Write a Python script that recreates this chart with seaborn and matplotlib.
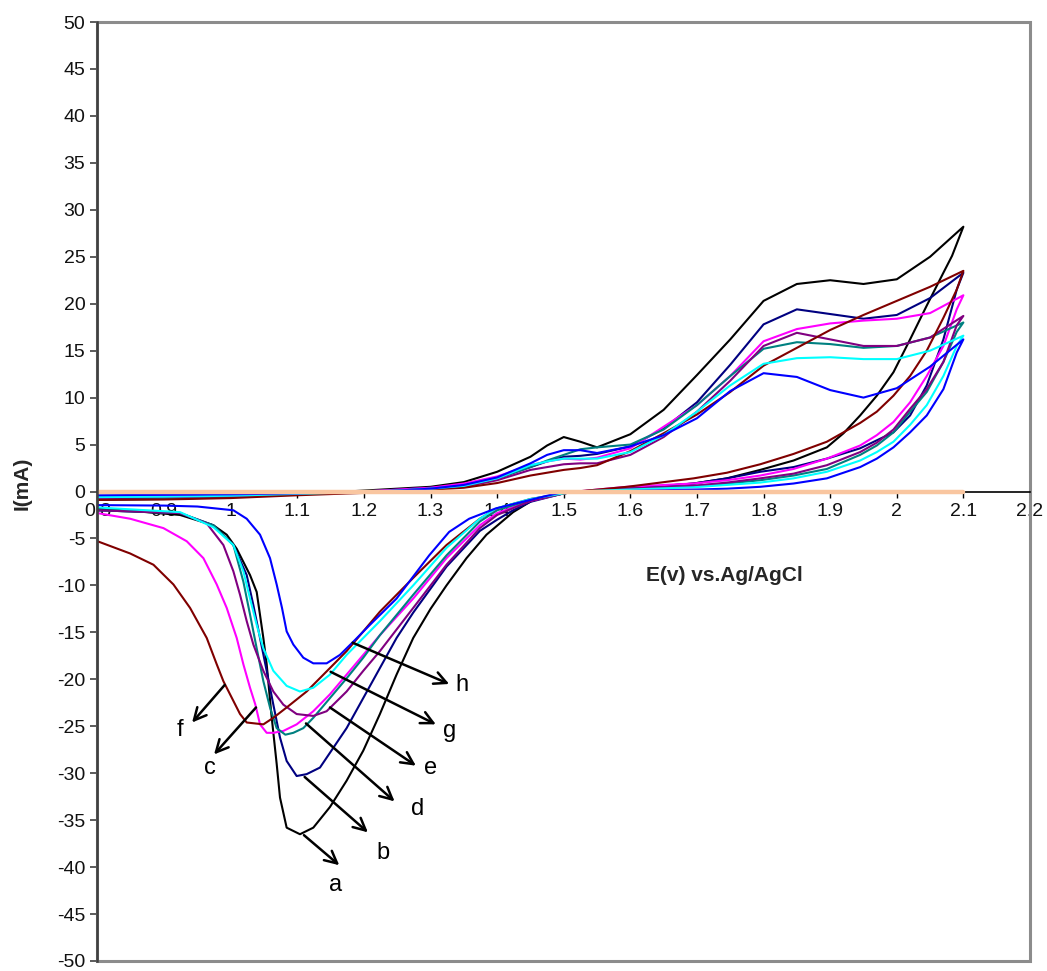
import matplotlib
matplotlib.use("Agg")
import matplotlib.pyplot as plt
import matplotlib.patches as mpatches
import numpy as np
import pandas as pd
import seaborn as sns

# ---------------- data ----------------
curves = ["a", "b", "c", "d", "e", "f", "g", "h"]
colors = {"a": "#000000", "b": "#000080", "c": "#FF00FF", "d": "#008080",
          "e": "#800080", "f": "#800000", "g": "#00FFFF", "h": "#0000FF"}

# forward (anodic) sweep, common potential grid
fwd_E = [0.80, 0.90, 1.00, 1.10, 1.20, 1.25, 1.30, 1.35, 1.40, 1.45, 1.475, 1.50, 1.525,
         1.55, 1.60, 1.65, 1.70, 1.75, 1.80, 1.85, 1.90, 1.95, 2.00, 2.05, 2.10]
fwd_a = [-0.8, -0.7, -0.5, -0.3, 0.1, 0.3, 0.5, 1.0, 2.1, 3.7, 4.9, 5.8, 5.3,
         4.7, 6.1, 8.7, 12.4, 16.2, 20.3, 22.1, 22.5, 22.1, 22.6, 25.0, 28.2]
fwd_b = [-0.6, -0.5, -0.4, -0.2, 0.0, 0.2, 0.4, 0.7, 1.4, 2.6, 3.2, 3.7, 3.8,
         4.0, 4.8, 6.7, 9.5, 13.5, 17.8, 19.4, 18.9, 18.4, 18.8, 20.6, 23.3]
fwd_c = [-0.5, -0.4, -0.3, -0.1, 0.0, 0.2, 0.4, 0.85, 1.6, 2.8, 3.2, 3.5, 3.4,
         3.6, 4.6, 6.9, 9.2, 12.3, 16.0, 17.3, 17.9, 18.2, 18.4, 19.0, 20.9]
fwd_d = [-0.9, -0.8, -0.6, -0.3, -0.1, 0.1, 0.3, 0.6, 1.4, 2.6, 3.3, 3.9, 4.5,
         4.7, 5.0, 6.6, 9.2, 12.3, 15.2, 15.9, 15.7, 15.3, 15.5, 16.4, 18.0]
fwd_e = [-0.7, -0.6, -0.5, -0.3, -0.1, 0.1, 0.3, 0.5, 1.2, 2.3, 2.6, 2.9, 3.0,
         3.0, 3.9, 5.8, 8.5, 11.8, 15.5, 16.9, 16.2, 15.5, 15.5, 16.4, 18.7]
fwd_f = [-0.9, -0.85, -0.7, -0.4, -0.15, 0.0, 0.2, 0.4, 0.9, 1.7, 2.0, 2.3, 2.5,
         2.8, 4.3, 6.2, 8.2, 10.6, 13.4, 15.3, 17.2, 18.8, 20.3, 21.8, 23.5]
fwd_g = [-0.6, -0.55, -0.45, -0.25, -0.05, 0.1, 0.3, 0.6, 1.4, 2.8, 3.2, 3.5, 3.5,
         3.5, 4.2, 6.0, 8.5, 11.3, 13.6, 14.2, 14.3, 14.1, 14.1, 15.0, 16.6]
fwd_h = [-0.4, -0.35, -0.3, -0.2, 0.0, 0.1, 0.3, 0.7, 1.5, 3.0, 3.9, 4.4, 4.4,
         4.1, 4.8, 6.0, 7.8, 10.7, 12.6, 12.2, 10.8, 10.0, 11.0, 13.3, 16.2]
fwd_I = {"a": fwd_a, "b": fwd_b, "c": fwd_c, "d": fwd_d,
         "e": fwd_e, "f": fwd_f, "g": fwd_g, "h": fwd_h}

# reverse sweep (2.1 V back to 0.8 V)
rev_E_a = [2.10, 2.083, 2.07, 2.045, 2.02, 1.995, 1.97, 1.945, 1.92, 1.895, 1.845, 1.795, 1.745,
           1.695, 1.595, 1.52, 1.50, 1.454, 1.424, 1.384, 1.354, 1.324, 1.30, 1.274, 1.249,
           1.224, 1.199, 1.174, 1.149, 1.124, 1.104, 1.084, 1.074, 1.069, 1.061, 1.054, 1.049,
           1.039, 1.029, 1.019, 1.009, 0.994, 0.974, 0.924, 0.874, 0.80]
rev_I_a = [28.2, 25.1, 23.3, 19.8, 16.2, 12.7, 10.2, 8.1, 6.2, 4.7, 3.3, 2.3, 1.4,
           0.85, 0.3, 0.0, -0.2, -0.9, -2.2, -4.6, -7.1, -10.0, -12.5, -15.6, -19.5,
           -23.7, -27.6, -30.8, -33.6, -35.8, -36.5, -35.8, -32.6, -29.0, -23.7, -18.4, -15.6,
           -10.7, -8.9, -7.5, -6.1, -4.6, -3.6, -2.5, -2.2, -1.8]

rev_E_b = [2.10, 2.09, 2.07, 2.045, 2.02, 1.995, 1.945, 1.895, 1.845, 1.795, 1.745, 1.695,
           1.595, 1.52, 1.50, 1.45, 1.424, 1.40, 1.374, 1.324, 1.274, 1.249, 1.224, 1.199,
           1.174, 1.154, 1.134, 1.114, 1.099, 1.084, 1.074, 1.064, 1.054, 1.044, 1.034,
           1.024, 1.004, 0.974, 0.924, 0.80]
rev_I_b = [23.3, 21.5, 16.2, 11.3, 8.1, 6.3, 4.6, 3.5, 2.6, 2.1, 1.4, 0.85,
           0.3, 0.0, -0.2, -1.1, -2.0, -3.0, -4.2, -8.0, -12.9, -15.6, -18.8, -22.0,
           -25.2, -27.3, -29.4, -30.1, -30.3, -28.7, -26.2, -22.7, -19.1, -15.6, -12.1,
           -8.9, -5.7, -3.6, -2.3, -2.0]

rev_E_c = [2.10, 2.09, 2.07, 2.045, 2.02, 1.995, 1.97, 1.945, 1.895, 1.845, 1.795, 1.745,
           1.695, 1.595, 1.52, 1.50, 1.45, 1.40, 1.374, 1.324, 1.274, 1.224, 1.199, 1.174,
           1.149, 1.124, 1.099, 1.079, 1.064, 1.054, 1.044, 1.037, 1.029, 1.019, 1.009,
           0.994, 0.979, 0.959, 0.934, 0.899, 0.849, 0.80]
rev_I_c = [20.9, 19.4, 15.5, 12.3, 9.5, 7.4, 6.0, 4.9, 3.5, 2.4, 1.7, 1.2,
           0.85, 0.5, 0.0, -0.2, -1.0, -2.3, -3.6, -7.1, -11.4, -15.3, -17.4, -19.5,
           -21.6, -23.4, -24.8, -25.5, -25.7, -25.7, -24.8, -22.7, -20.9, -18.4, -15.6,
           -12.4, -9.9, -7.1, -5.3, -3.9, -2.9, -2.3]

rev_E_d = [2.10, 2.09, 2.07, 2.045, 2.02, 1.995, 1.97, 1.945, 1.895, 1.845, 1.795, 1.745,
           1.695, 1.595, 1.52, 1.50, 1.45, 1.40, 1.374, 1.324, 1.274, 1.224, 1.199, 1.174,
           1.149, 1.124, 1.109, 1.094, 1.082, 1.069, 1.059, 1.049, 1.039, 1.029, 1.019,
           1.004, 0.974, 0.924, 0.80]
rev_I_d = [18.0, 17.0, 13.8, 10.6, 8.5, 6.3, 4.9, 3.9, 2.4, 1.7, 1.2, 0.85,
           0.6, 0.25, 0.0, -0.2, -0.9, -2.0, -3.2, -6.8, -11.0, -15.3, -17.7, -19.9,
           -22.0, -24.1, -25.2, -25.7, -25.9, -25.2, -23.0, -20.2, -16.7, -13.1, -9.6,
           -5.7, -3.6, -2.3, -2.0]

rev_E_e = [2.10, 2.09, 2.07, 2.045, 2.02, 1.995, 1.97, 1.945, 1.895, 1.845, 1.795, 1.745,
           1.695, 1.595, 1.52, 1.50, 1.45, 1.40, 1.374, 1.324, 1.274, 1.224, 1.199, 1.174,
           1.144, 1.124, 1.099, 1.079, 1.064, 1.049, 1.034, 1.024, 1.014, 1.004, 0.989,
           0.964, 0.924, 0.80]
rev_I_e = [18.7, 17.7, 13.8, 10.9, 8.8, 6.6, 5.2, 4.2, 2.8, 1.9, 1.4, 0.95,
           0.6, 0.3, 0.0, -0.2, -1.0, -2.5, -3.9, -7.8, -12.4, -17.0, -19.1, -21.3,
           -23.4, -23.9, -23.7, -22.7, -21.3, -19.1, -16.3, -13.8, -11.0, -8.5, -5.7,
           -3.4, -2.3, -2.0]

rev_E_f = [2.10, 2.09, 2.07, 2.045, 2.02, 1.995, 1.97, 1.945, 1.895, 1.845, 1.795, 1.745,
           1.695, 1.595, 1.52, 1.50, 1.45, 1.40, 1.374, 1.324, 1.274, 1.224, 1.199, 1.174,
           1.149, 1.114, 1.084, 1.064, 1.049, 1.024, 1.014, 1.004, 0.989, 0.979, 0.964,
           0.939, 0.914, 0.884, 0.849, 0.80]
rev_I_f = [23.5, 21.5, 18.5, 15.0, 12.3, 10.2, 8.5, 7.3, 5.3, 4.0, 2.9, 2.0,
           1.4, 0.5, 0.0, -0.2, -0.8, -1.8, -2.9, -5.7, -9.2, -12.8, -14.9, -17.0,
           -18.8, -21.3, -23.0, -24.1, -24.8, -24.6, -23.7, -22.3, -20.2, -18.4, -15.6,
           -12.4, -9.9, -7.8, -6.6, -5.3]

rev_E_g = [2.10, 2.09, 2.07, 2.045, 2.02, 1.995, 1.97, 1.945, 1.895, 1.845, 1.795, 1.745,
           1.695, 1.595, 1.52, 1.50, 1.45, 1.399, 1.374, 1.324, 1.274, 1.224, 1.199, 1.174,
           1.149, 1.124, 1.104, 1.084, 1.064, 1.049, 1.039, 1.029, 1.019, 1.004, 0.974,
           0.924, 0.80]
rev_I_g = [16.6, 15.5, 12.3, 9.2, 7.1, 5.3, 4.2, 3.3, 2.1, 1.4, 0.95, 0.7,
           0.45, 0.2, 0.0, -0.2, -0.8, -1.8, -2.9, -6.0, -10.0, -13.8, -15.6, -17.4,
           -19.5, -20.9, -21.3, -20.7, -19.1, -16.7, -14.2, -11.4, -8.5, -5.7, -3.8,
           -2.2, -1.7]

rev_E_h = [2.10, 2.09, 2.07, 2.045, 2.02, 1.995, 1.97, 1.945, 1.895, 1.845, 1.795, 1.745,
           1.695, 1.595, 1.52, 1.503, 1.478, 1.438, 1.398, 1.358, 1.328, 1.298, 1.249, 1.209,
           1.184, 1.164, 1.144, 1.124, 1.109, 1.094, 1.084, 1.077, 1.069, 1.059, 1.044,
           1.024, 1.004, 0.95, 0.90, 0.80]
rev_I_h = [16.2, 14.8, 10.9, 8.1, 6.3, 4.7, 3.5, 2.6, 1.4, 0.85, 0.5, 0.3,
           0.2, 0.05, 0.0, 0.0, -0.4, -1.1, -1.8, -2.9, -4.3, -6.8, -11.4, -14.2,
           -16.0, -17.4, -18.3, -18.3, -17.7, -16.3, -14.9, -12.4, -9.9, -7.1, -4.6,
           -2.9, -2.0, -1.6, -1.5, -1.45]

rev_E = {"a": rev_E_a, "b": rev_E_b, "c": rev_E_c, "d": rev_E_d,
         "e": rev_E_e, "f": rev_E_f, "g": rev_E_g, "h": rev_E_h}
rev_I = {"a": rev_I_a, "b": rev_I_b, "c": rev_I_c, "d": rev_I_d,
         "e": rev_I_e, "f": rev_I_f, "g": rev_I_g, "h": rev_I_h}

zero_E = [0.8, 2.1]
zero_I = [0.0, 0.0]

x_ticks = [0.8, 0.9, 1.0, 1.1, 1.2, 1.3, 1.4, 1.5, 1.6, 1.7, 1.8, 1.9, 2.0, 2.1, 2.2]
x_tick_labels = ["0.8", "0.9", "1", "1.1", "1.2", "1.3", "1.4", "1.5", "1.6", "1.7",
                 "1.8", "1.9", "2", "2.1", "2.2"]
y_ticks = list(range(-50, 55, 5))

# annotation layout: label, arrow tail, arrow head, label position (baseline)
annotations = [
    ("h", (1.183, -16.1), (1.328, -20.5), (1.347, -21.2)),
    ("g", (1.150, -19.2), (1.308, -24.8), (1.329, -26.1)),
    ("e", (1.149, -23.0), (1.278, -29.2), (1.300, -30.1)),
    ("d", (1.113, -24.7), (1.246, -33.0), (1.280, -34.5)),
    ("b", (1.111, -30.4), (1.206, -36.3), (1.228, -39.1)),
    ("a", (1.110, -36.6), (1.163, -39.8), (1.158, -42.5)),
    ("c", (1.038, -23.0), (0.975, -28.0), (0.969, -30.1)),
    ("f", (0.991, -20.6), (0.942, -24.6), (0.924, -26.0)),
]

# ---------------- table ----------------
rows = []
for c in curves:
    E = list(fwd_E) + list(rev_E[c])
    I = list(fwd_I[c]) + list(rev_I[c])
    for k, (e, i) in enumerate(zip(E, I)):
        rows.append({"curve": c, "step": k, "E": e, "I": i})
df = pd.DataFrame(rows)
df_zero = pd.DataFrame({"E": zero_E, "I": zero_I})

# ---------------- plot ----------------
sns.set_theme(style="white")
plt.rcParams["font.family"] = ["Liberation Sans", "DejaVu Sans"]
plt.rcParams["axes.unicode_minus"] = False

fig = plt.figure(figsize=(10.47, 9.71), dpi=100)
ax = fig.add_axes([0.09312, 0.0103, 0.89064, 0.96704])

sns.lineplot(data=df, x="E", y="I", hue="curve", hue_order=curves, palette=colors,
             sort=False, estimator=None, units="curve", legend=False,
             linewidth=1.5, ax=ax, zorder=3)
sns.lineplot(data=df_zero, x="E", y="I", color="#F9C6A0", linewidth=3.2,
             sort=False, estimator=None, legend=False, ax=ax, zorder=4)

ax.set_xlim(0.8, 2.2)
ax.set_ylim(-50, 50)
ax.set_xticks(x_ticks)
ax.set_xticklabels(x_tick_labels)
ax.set_yticks(y_ticks)
ax.set_yticklabels([str(v) for v in y_ticks])

# frame
for s in ["top", "right"]:
    ax.spines[s].set_visible(False)
ax.add_patch(mpatches.Rectangle((0, 0), 1, 1, transform=ax.transAxes, fill=False,
                                edgecolor="#8C8C8C", linewidth=2.2, zorder=1, clip_on=False))
ax.spines["left"].set_color("#404040")
ax.spines["left"].set_linewidth(1.8)
ax.spines["left"].set_zorder(5)
ax.spines["bottom"].set_position(("data", 0))
ax.spines["bottom"].set_color("#000000")
ax.spines["bottom"].set_linewidth(1.2)

ax.tick_params(axis="y", direction="out", length=4.8, width=1.2, color="#404040",
               labelsize=14, pad=4, left=True, labelcolor="#111111")
ax.tick_params(axis="x", direction="out", length=4.5, width=1.0, color="#000000",
               labelsize=14, pad=4, bottom=True, labelcolor="#111111")
for lab in ax.get_xticklabels():
    lab.set_zorder(6)

ax.set_ylabel("I(mA)", fontsize=15, fontweight="bold", va="center", ha="center")
ax.yaxis.set_label_coords(-0.081, 0.509)
ax.set_xlabel("E(v) vs.Ag/AgCl", fontsize=15, fontweight="bold", va="center", ha="center")
ax.xaxis.set_label_coords(0.672, 0.411)

for lab, tail, head, tpos in annotations:
    ax.annotate("", xy=head, xytext=tail,
                arrowprops=dict(arrowstyle="->", color="black", lw=1.8,
                                mutation_scale=22, shrinkA=0, shrinkB=0), zorder=6)
    ax.text(tpos[0], tpos[1], lab, fontsize=17, ha="center", va="baseline",
            color="black", zorder=6)

fig.savefig("out.png", dpi=100)
